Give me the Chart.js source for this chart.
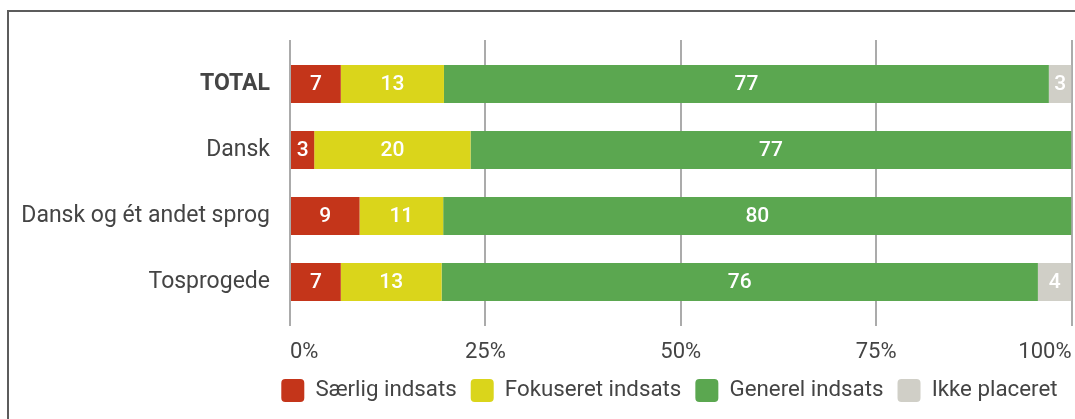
<!DOCTYPE html>
<html>
<head>
<meta charset="utf-8">
<script src="https://cdn.jsdelivr.net/npm/chart.js@4/dist/chart.umd.min.js"></script>
<style>
  html, body { margin: 0; padding: 0; background: #fff; overflow: hidden; }
  #wrap { position: relative; width: 1075px; height: 419px; }
  #frame { position: absolute; left: 7px; top: 10px; width: 1200px; height: 500px;
           border-left: 2px solid #5c5c5c; border-top: 2px solid #5c5c5c; }
  canvas { position: absolute; left: 0; top: 0; }
</style>
</head>
<body>
<div id="wrap">
  <div id="frame"></div>
  <canvas id="c" width="1075" height="419"></canvas>
</div>
<script>
const categories = ['TOTAL', 'Dansk', 'Dansk og ét andet sprog', 'Tosprogede'];
const seriesNames = ['Særlig indsats', 'Fokuseret indsats', 'Generel indsats', 'Ikke placeret'];
const saerlig   = [6.5, 3.1, 8.9, 6.5];
const fokuseret = [13.2, 20.0, 10.7, 12.9];
const generel   = [77.4, 76.9, 80.4, 76.3];
const ikke      = [2.9, 0, 0, 4.3];
const xTicks = [0, 25, 50, 75, 100];
const colors = ['#C4351A', '#DAD51B', '#5BA750', '#D0CFC7'];

const FONT = 'Roboto';
const TEXT = '#444444';

const valueLabels = {
  id: 'valueLabels',
  afterDatasetsDraw(chart) {
    const ctx = chart.ctx;
    ctx.save();
    ctx.font = '500 21px ' + FONT;
    ctx.fillStyle = '#ffffff';
    ctx.textAlign = 'center';
    ctx.textBaseline = 'middle';
    chart.data.datasets.forEach((ds, di) => {
      const meta = chart.getDatasetMeta(di);
      meta.data.forEach((el, i) => {
        const v = ds.data[i];
        if (!v) return;
        const p = el.getCenterPoint();
        ctx.fillText(String(Math.round(v)), p.x, p.y + 1);
      });
    });
    ctx.restore();
  }
};

const seriesData = [saerlig, fokuseret, generel, ikke];

new Chart(document.getElementById('c'), {
  type: 'bar',
  data: {
    labels: categories,
    datasets: seriesNames.map((name, i) => ({
      label: name,
      data: seriesData[i],
      backgroundColor: colors[i],
      borderWidth: 0,
      barPercentage: 0.575,
      categoryPercentage: 1.0,
      xAxisID: 'x',
      yAxisID: 'y'
    }))
  },
  options: {
    indexAxis: 'y',
    responsive: false,
    animation: false,
    layout: { padding: { left: 0, right: 3.5, top: 40, bottom: 7 } },
    scales: {
      x: {
        stacked: true,
        min: 0, max: 100,
        afterBuildTicks(scale) { scale.ticks = xTicks.map(v => ({ value: v })); },
        afterFit(scale) { scale.paddingLeft = 0; scale.paddingRight = 0; scale.height -= 13.3; },
        position: 'bottom',
        grid: { color: '#ababab', lineWidth: 2, tickLength: 11, drawTicks: true },
        border: { display: false },
        ticks: {
          align: 'inner',
          padding: 13,
          color: TEXT,
          font: { family: FONT, size: 22 },
          callback: v => v + '%'
        }
      },
      x2: {
        min: 0, max: 100,
        afterBuildTicks(scale) { scale.ticks = xTicks.map(v => ({ value: v })); },
        position: 'top',
        grid: { color: '#ababab', lineWidth: 2, tickLength: 11, drawTicks: true },
        border: { display: false },
        ticks: { display: false }
      },
      y: {
        stacked: true,
        afterFit(scale) { scale.width = 290; },
        grid: { display: false, drawTicks: false },
        border: { display: false },
        ticks: {
          padding: 20,
          color: TEXT,
          font: ctx => ({ family: FONT, size: 23, weight: ctx.index === 0 ? 'bold' : 'normal' })
        }
      }
    },
    plugins: {
      tooltip: { enabled: false },
      legend: {
        position: 'bottom',
        align: 'end',
        labels: {
          boxWidth: 23,
          boxHeight: 23,
          padding: 14,
          useBorderRadius: true,
          borderRadius: 4,
          color: TEXT,
          font: { family: FONT, size: 22.3 }
        }
      }
    }
  },
  plugins: [valueLabels]
});
</script>
</body>
</html>
